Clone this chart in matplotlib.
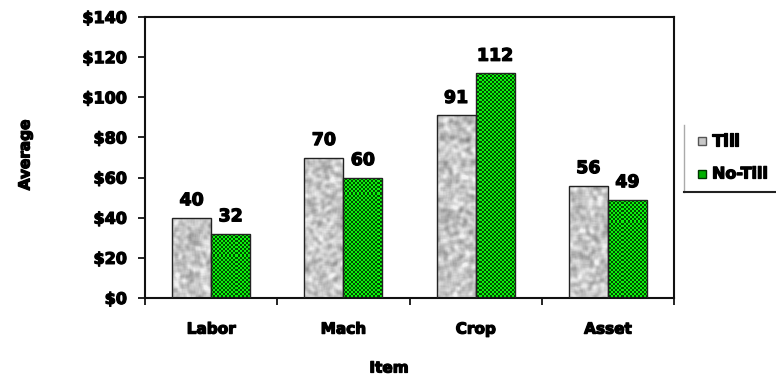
import numpy as np
import matplotlib
matplotlib.use("Agg")
import matplotlib.pyplot as plt
import matplotlib.patheffects as pe
from matplotlib.patches import Rectangle
from matplotlib.lines import Line2D

categories = ["Labor", "Mach", "Crop", "Asset"]
till = [40, 70, 91, 56]
no_till = [32, 60, 112, 49]
series_names = ["Till", "No-Till"]
y_ticks = [0, 20, 40, 60, 80, 100, 120, 140]
y_tick_labels = ["$0", "$20", "$40", "$60", "$80", "$100", "$120", "$140"]

W, H, DPI = 776, 379, 100
fig = plt.figure(figsize=(W / DPI, H / DPI), dpi=DPI)
ax_l, ax_r, ax_t, ax_b = 145, 674, 17, 298
ax = fig.add_axes([ax_l / W, 1 - ax_b / H, (ax_r - ax_l) / W, (ax_b - ax_t) / H])

heavy = [pe.withStroke(linewidth=0.9, foreground="black")]
font = dict(family="DejaVu Sans", fontweight="bold", path_effects=heavy)

# Surface textures rendered at screen resolution
pw, ph = ax_r - ax_l, ax_b - ax_t
rng = np.random.default_rng(7)
noise = rng.random((ph + 8, pw + 8))
k = np.array([1, 2, 3, 4, 3, 2, 1], float)
k /= k.sum()
noise = np.apply_along_axis(lambda r: np.convolve(r, k, mode="same"), 1, noise)
noise = np.apply_along_axis(lambda c: np.convolve(c, k, mode="same"), 0, noise)
noise = noise[4:-4, 4:-4]
noise = (noise - noise.mean()) / noise.std()
gray = np.clip(0.78 + 0.07 * noise, 0.5, 0.95)
gray_tex = np.dstack([gray, gray, gray])

yy, xx = np.mgrid[0:ph, 0:pw]
cell = ((xx // 2) + (yy // 2)) % 2 == 0
green_tex = np.zeros((ph, pw, 3))
green_tex[..., 1] = np.where(cell, 0.95, 0.30)
green_tex[..., 0] = np.where(cell, 0.05, 0.0)
green_tex[..., 2] = np.where(cell, 0.05, 0.0)

x = np.arange(len(categories))
bw = 0.295
xlim = (-0.5, len(categories) - 0.5)
ylim = (0, 140)

for vals, offset, tex in [(till, -bw / 2, gray_tex), (no_till, bw / 2, green_tex)]:
    bars = ax.bar(x + offset, vals, bw, facecolor="none", edgecolor="#222222",
                  linewidth=1.0, zorder=3)
    for b, v in zip(bars, vals):
        im = ax.imshow(tex, extent=(xlim[0], xlim[1], ylim[0], ylim[1]),
                       aspect="auto", interpolation="nearest", zorder=2,
                       origin="upper")
        im.set_clip_path(b)
        ax.text(b.get_x() + b.get_width() / 2, v + 4.2, str(v), ha="center",
                va="bottom", fontsize=12.5, **font)

ax.set_xlim(*xlim)
ax.set_ylim(*ylim)

ax.set_yticks(y_ticks)
ax.set_yticklabels(y_tick_labels, fontsize=11.5, **font)
ax.tick_params(axis="y", direction="out", length=5, width=1.2, pad=8)

ax.set_xticks(x)
ax.set_xticklabels(categories, fontsize=11, **font)
ax.tick_params(axis="x", which="major", length=0, pad=17)
ax.set_xticks(np.arange(-0.5, len(categories)), minor=True)
ax.tick_params(axis="x", which="minor", direction="out", length=5, width=1.2)

for s in ax.spines.values():
    s.set_linewidth(1.5)
    s.set_color("#111111")

fig.text(389 / W, 1 - 368 / H, "Item", ha="center", va="center", fontsize=11, **font)
fig.text(25 / W, 1 - 155 / H, "Average", ha="center", va="center", rotation=90,
         fontsize=11, **font)

# Legend
lx0, ly0, ly1 = 684, 125, 192
fig.add_artist(Line2D([lx0 / W, lx0 / W], [1 - ly0 / H, 1 - ly1 / H],
                      color="#aaaaaa", linewidth=1.0))
fig.add_artist(Line2D([lx0 / W, 1.0], [1 - ly1 / H, 1 - ly1 / H],
                      color="#222222", linewidth=1.5))
for name, face, edge, yc in [(series_names[0], "#c8c8c8", "#555555", 141),
                             (series_names[1], "#00b000", "#003300", 174)]:
    fig.add_artist(Rectangle((698 / W, 1 - (yc + 4) / H), 8 / W, 8 / H,
                             facecolor=face, edgecolor=edge, linewidth=1.0,
                             transform=fig.transFigure))
    fig.text(712 / W, 1 - yc / H, name, ha="left", va="center", fontsize=11.5, **font)

fig.savefig("out.png", dpi=DPI)
